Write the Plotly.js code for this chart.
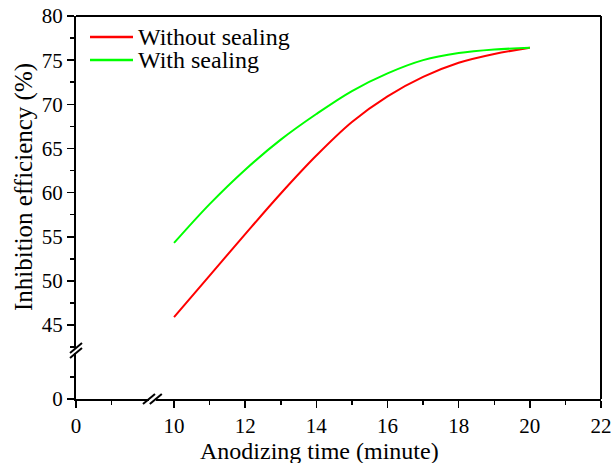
<!DOCTYPE html>
<html>
<head>
<meta charset="utf-8">
<script src="https://cdn.plot.ly/plotly-3.0.1.min.js"></script>
<style>html,body{margin:0;padding:0;background:#fff;}#chart{width:613px;height:463px;}</style>
</head>
<body>
<div id="chart"></div>
<script>
// Data
const anodizingTime = [10, 11, 12, 13, 14, 15, 16, 17, 18, 19, 20];
const withoutSealing = [45.9, 50.6, 55.3, 59.9, 64.2, 68.0, 70.9, 73.1, 74.7, 75.7, 76.4];
const withSealing = [54.3, 58.7, 62.6, 66.0, 68.9, 71.5, 73.5, 75.0, 75.8, 76.2, 76.4];
const seriesNames = ['Without sealing', 'With sealing'];
const seriesColors = ['#ff0000', '#00ff00'];
const xTicksUpper = [10, 12, 14, 16, 18, 20, 22];
const yTicksUpper = [45, 50, 55, 60, 65, 70, 75, 80];

const FONT = 'Liberation Serif';
const W = 613, H = 463, ML = 76, MR = 12, MT = 16, MB = 64;
const PW = W - ML - MR, PH = H - MT - MB;
const xScale = 35.58, yScale = 8.83; // px per unit

// broken-axis domains (paper fractions)
const xLeftDom = [0, 0.139], xRightDom = [0.152, 1];
const yLowDom = [0, 0.120], yUpDom = [0.133, 1];
const xLeftRange = [0, xLeftDom[1] * PW / xScale];
const xRightRange = [22 - (1 - xRightDom[0]) * PW / xScale, 22];
const yLowRange = [0, yLowDom[1] * PH / yScale];
const yUpRange = [80 - (1 - yUpDom[0]) * PH / yScale, 80];

const axisCommon = {
  showline: true, linecolor: '#000', linewidth: 2,
  ticks: 'outside', ticklen: 7, tickwidth: 1.5, tickcolor: '#000',
  showgrid: false, zeroline: false,
  tickfont: {family: FONT, size: 21, color: '#000'},
  minor: {ticks: 'outside', ticklen: 4, tickwidth: 1.5, tickcolor: '#000', showgrid: false}
};

const traces = [
  {x: anodizingTime, y: withoutSealing, name: seriesNames[0], type: 'scatter', mode: 'lines',
   line: {color: seriesColors[0], width: 2, shape: 'spline', smoothing: 1}, xaxis: 'x', yaxis: 'y'},
  {x: anodizingTime, y: withSealing, name: seriesNames[1], type: 'scatter', mode: 'lines',
   line: {color: seriesColors[1], width: 2, shape: 'spline', smoothing: 1}, xaxis: 'x', yaxis: 'y'},
  // placeholders so that every axis of the broken frame gets a subplot
  {x: [null], y: [null], xaxis: 'x2', yaxis: 'y2', type: 'scatter', mode: 'lines', hoverinfo: 'skip'},
  {x: [null], y: [null], xaxis: 'x', yaxis: 'y2', type: 'scatter', mode: 'lines', hoverinfo: 'skip'},
  {x: [null], y: [null], xaxis: 'x2', yaxis: 'y', type: 'scatter', mode: 'lines', hoverinfo: 'skip'}
];

function slash(xa, ya) {
  return {type: 'line', xref: 'paper', yref: 'paper', xsizemode: 'pixel', ysizemode: 'pixel',
          xanchor: xa, yanchor: ya, x0: -6, x1: 6, y0: -5, y1: 5, line: {color: '#000', width: 2}};
}

// manual legend (px positions converted to paper)
const legX0 = (90 - ML) / PW, legX1 = (133 - ML) / PW, legTextX = (137 - ML) / PW;
const legY = [37, 60].map(p => (H - MB - p) / PH);
const legendShapes = seriesNames.map((n, i) => ({type: 'line', xref: 'paper', yref: 'paper',
  x0: legX0, x1: legX1, y0: legY[i], y1: legY[i], line: {color: seriesColors[i], width: 2.5}}));
const legendTexts = seriesNames.map((n, i) => ({text: n, xref: 'paper', yref: 'paper', x: legTextX, y: legY[i],
  xanchor: 'left', yanchor: 'middle', showarrow: false, borderpad: 0,
  font: {family: FONT, size: 24, color: '#000'}}));

const layout = {
  width: W, height: H,
  margin: {l: ML, r: MR, t: MT, b: MB},
  paper_bgcolor: '#fff', plot_bgcolor: '#fff',
  showlegend: false,
  xaxis: Object.assign({}, axisCommon, {domain: xRightDom, range: xRightRange, anchor: 'y2',
          tickvals: xTicksUpper, minor: Object.assign({}, axisCommon.minor, {dtick: 1, tick0: 0})}),
  xaxis2: Object.assign({}, axisCommon, {domain: xLeftDom, range: xLeftRange, anchor: 'y2',
          tickvals: [0], minor: Object.assign({}, axisCommon.minor, {tickvals: [1]})}),
  yaxis: Object.assign({}, axisCommon, {domain: yUpDom, range: yUpRange, anchor: 'x2',
          tickvals: yTicksUpper, minor: Object.assign({}, axisCommon.minor, {dtick: 2.5, tick0: 0})}),
  yaxis2: Object.assign({}, axisCommon, {domain: yLowDom, range: yLowRange, anchor: 'x2',
          tickvals: [0], minor: Object.assign({}, axisCommon.minor, {tickvals: [2.5]})}),
  shapes: [
    {type: 'line', xref: 'paper', yref: 'paper', x0: 0, x1: 1, y0: 1, y1: 1, line: {color: '#000', width: 2}},
    {type: 'line', xref: 'paper', yref: 'paper', x0: 1, x1: 1, y0: 0, y1: 1, line: {color: '#000', width: 2}},
    slash(xLeftDom[1], 0), slash(xRightDom[0], 0),
    slash(0, yLowDom[1]), slash(0, yUpDom[0])
  ].concat(legendShapes),
  annotations: [
    {text: 'Anodizing time (minute)', xref: 'paper', yref: 'paper', x: (319 - ML) / PW, y: -(451 - (H - MB)) / PH,
     xanchor: 'center', yanchor: 'middle', showarrow: false, font: {family: FONT, size: 24, color: '#000'}},
    {text: 'Inhibition efficiency (%)', xref: 'paper', yref: 'paper', x: (24 - ML) / PW, y: (H - MB - 187) / PH, textangle: -90,
     xanchor: 'center', yanchor: 'middle', showarrow: false, font: {family: FONT, size: 25, color: '#000'}}
  ].concat(legendTexts)
};

Plotly.newPlot('chart', traces, layout, {displayModeBar: false, staticPlot: true});
</script>
</body>
</html>
